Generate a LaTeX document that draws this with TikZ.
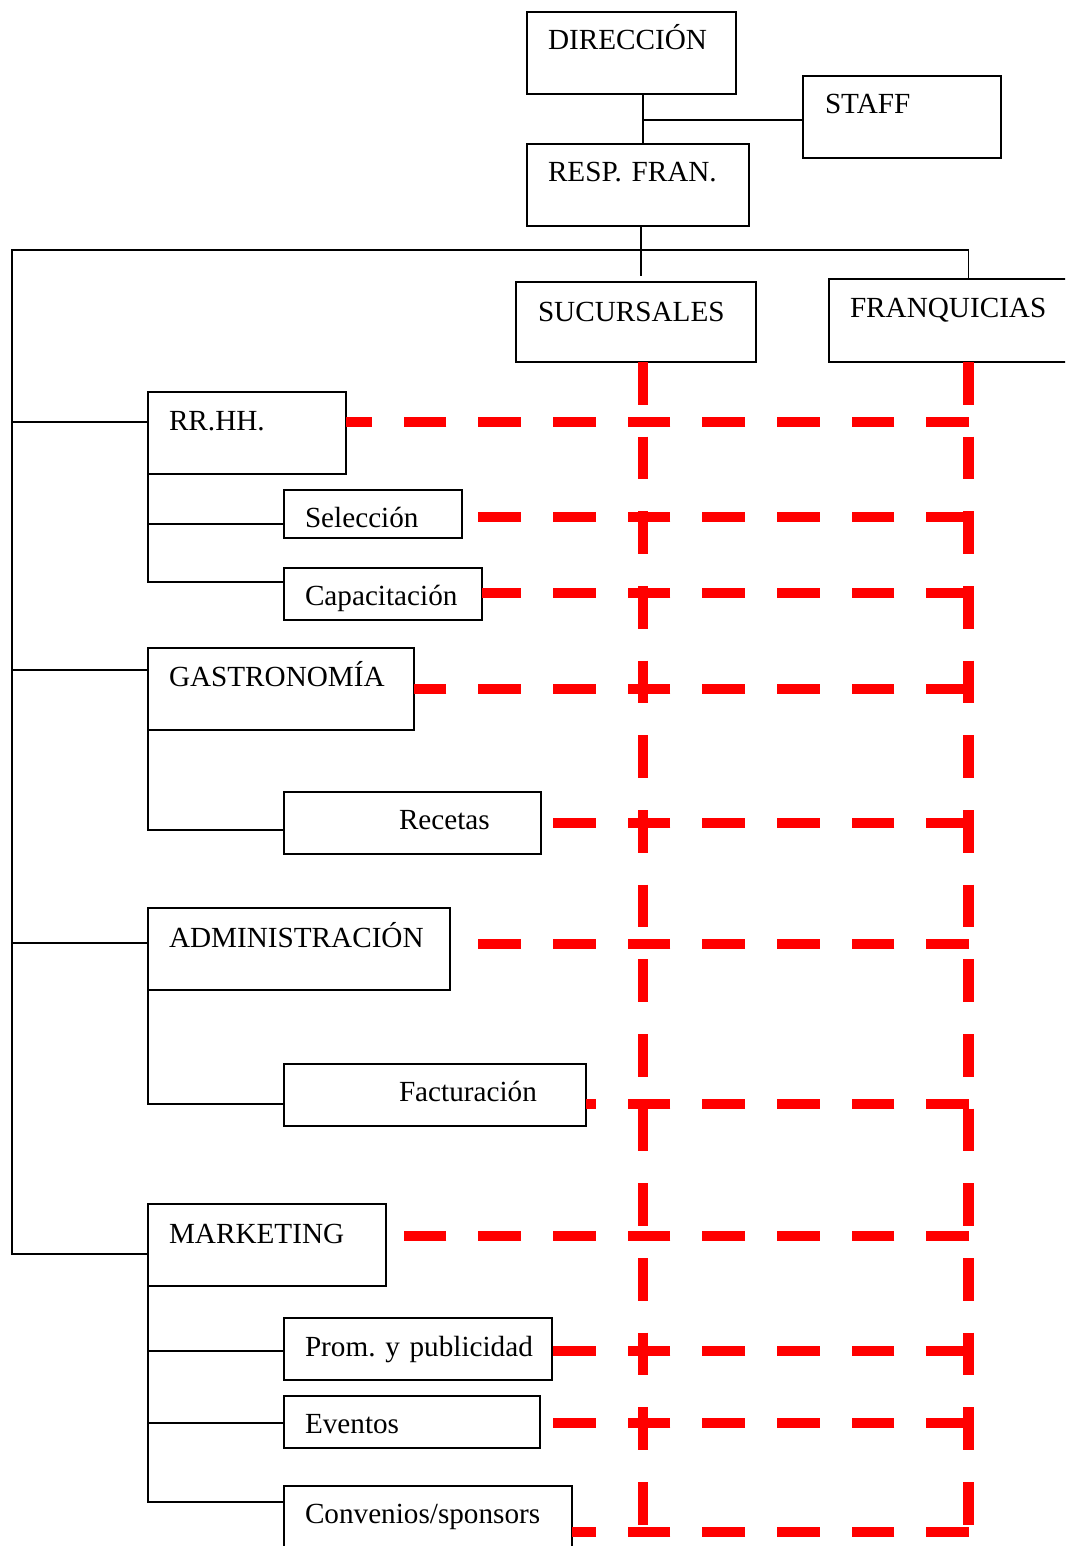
\documentclass[tikz,border=0pt]{standalone}
\usepackage{fontspec}
\setmainfont{Liberation Serif}
\usetikzlibrary{calc}
\frenchspacing
\begin{document}
\begin{tikzpicture}[x=1pt,y=-1pt,
  box/.style={draw, line width=1.9pt, inner sep=0pt, outer sep=0pt, anchor=north west, align=left,
              font=\fontsize{29.2}{34}\selectfont},
  bx/.style n args={3}{text width=#1pt, text height=#2pt, text depth=#3pt},
  conn/.style={line width=1.9pt},
  reddash/.style={draw=red, line width=10.5pt, dash pattern=on 42.67pt off 32pt}]
\useasboundingbox (0,0) rectangle (1065,1546);
\clip (0,0) rectangle (1065,1546);
% boxes
\node[box, bx={209}{38}{44}] (dir)   at (527,12)   {\noindent\hspace*{21pt}DIRECCIÓN};
\node[box, bx={198}{38}{44}] (staff) at (803,76)   {\noindent\hspace*{22pt}STAFF};
\node[box, bx={222}{38}{44}] (resp)  at (527,144)  {\noindent\hspace*{21pt}RESP. FRAN.};
\node[box, bx={240}{39}{41}] (suc)   at (516,282)  {\noindent\hspace*{22pt}SUCURSALES};
\node[box, bx={260}{38}{45}] (fran)  at (829,279)  {\noindent\hspace*{21pt}FRANQUICIAS};
\node[box, bx={198}{38}{44}] (rrhh)  at (148,392)  {\noindent\hspace*{21pt}RR.HH.};
\node[box, bx={178}{37}{11}] (sel)   at (284,490)  {\noindent\hspace*{21pt}Selección};
\node[box, bx={198}{37}{15}] (cap)   at (284,568)  {\noindent\hspace*{21pt}Capacitación};
\node[box, bx={266}{38}{44}] (gas)   at (148,648)  {\noindent\hspace*{21pt}GASTRONOMÍA};
\node[box, bx={257}{37}{25}] (rec)   at (284,792)  {\noindent\hspace*{115pt}Recetas};
\node[box, bx={302}{39}{43}] (adm)   at (148,908)  {\noindent\hspace*{21pt}ADMINISTRACIÓN};
\node[box, bx={302}{37}{25}] (fac)   at (284,1064) {\noindent\hspace*{115pt}Facturación};
\node[box, bx={238}{39}{43}] (mkt)   at (148,1204) {\noindent\hspace*{21pt}MARKETING};
\node[box, bx={268}{38}{24}] (prom)  at (284,1318) {\noindent\hspace*{21pt}Prom. y publicidad};
\node[box, bx={256}{37}{15}] (ev)    at (284,1396) {\noindent\hspace*{21pt}Eventos};
\node[box, bx={288}{37}{45}] (conv)  at (284,1486) {\noindent\hspace*{21pt}Convenios/sponsors};
% black connectors
\coordinate (j1) at (643,120);
\draw[conn] (dir.south -| j1) -- (resp.north -| j1);
\draw[conn] (j1) -- (staff.west |- j1);
\coordinate (j2) at (641,276);
\draw[conn] (resp.south -| j2) -- (j2);
\coordinate (bl) at (12,250);
\coordinate (br) at (968.5,250);
\coordinate (rrb) at ($(rrhh.north west)+(0,30)$);
\coordinate (gab) at ($(gas.north west)+(0,22)$);
\coordinate (adb) at ($(adm.north west)+(0,35)$);
\coordinate (mkb) at ($(mkt.north west)+(0,50)$);
\draw[conn] (fran.north -| br) -- (br) -- (bl) |- (mkb);
\draw[conn] (rrb -| bl) -- (rrb);
\draw[conn] (gab -| bl) -- (gab);
\draw[conn] (adb -| bl) -- (adb);
\coordinate (selb) at ($(sel.north west)+(0,34)$);
\coordinate (capb) at ($(cap.north west)+(0,14)$);
\draw[conn] (rrhh.south west) |- (capb);
\draw[conn] (selb -| rrhh.south west) -- (selb);
\coordinate (recb) at ($(rec.north west)+(0,38)$);
\draw[conn] (gas.south west) |- (recb);
\coordinate (facb) at ($(fac.north west)+(0,40)$);
\draw[conn] (adm.south west) |- (facb);
\coordinate (prb) at ($(prom.north west)+(0,33)$);
\coordinate (evb) at ($(ev.north west)+(0,27)$);
\coordinate (cob) at ($(conv.north west)+(0,16)$);
\draw[conn] (mkt.south west) |- (cob);
\draw[conn] (prb -| mkt.south west) -- (prb);
\draw[conn] (evb -| mkt.south west) -- (evb);
% red dashed lines
\coordinate (v1) at (643,0);
\coordinate (v2) at (968.5,0);
\coordinate (hr) at (969,0);
\coordinate (vend) at (0,1532);
\draw[reddash] (suc.south -| v1) -- (vend -| v1);
\draw[reddash] (fran.south -| v2) -- (vend -| v2);
\coordinate (h1)  at ($(rrhh.north east)+(0,30)$);
\coordinate (h2)  at ($(sel.north east)+(0,27)$);
\coordinate (h3)  at ($(cap.north east)+(0,25)$);
\coordinate (h4)  at ($(gas.north east)+(0,41)$);
\coordinate (h5)  at ($(rec.north east)+(0,31)$);
\coordinate (h6)  at ($(adm.north east)+(0,36)$);
\coordinate (h7)  at ($(fac.north east)+(0,40)$);
\coordinate (h8)  at ($(mkt.north east)+(0,32)$);
\coordinate (h9)  at ($(prom.north east)+(0,33)$);
\coordinate (h10) at ($(ev.north east)+(0,27)$);
\coordinate (h11) at ($(conv.north east)+(0,46)$);
\foreach \h in {h1,h2,h3,h4,h5,h6,h7,h8,h9,h10,h11}
  \draw[reddash] (\h -| hr) -- (\h);
\end{tikzpicture}
\end{document}
